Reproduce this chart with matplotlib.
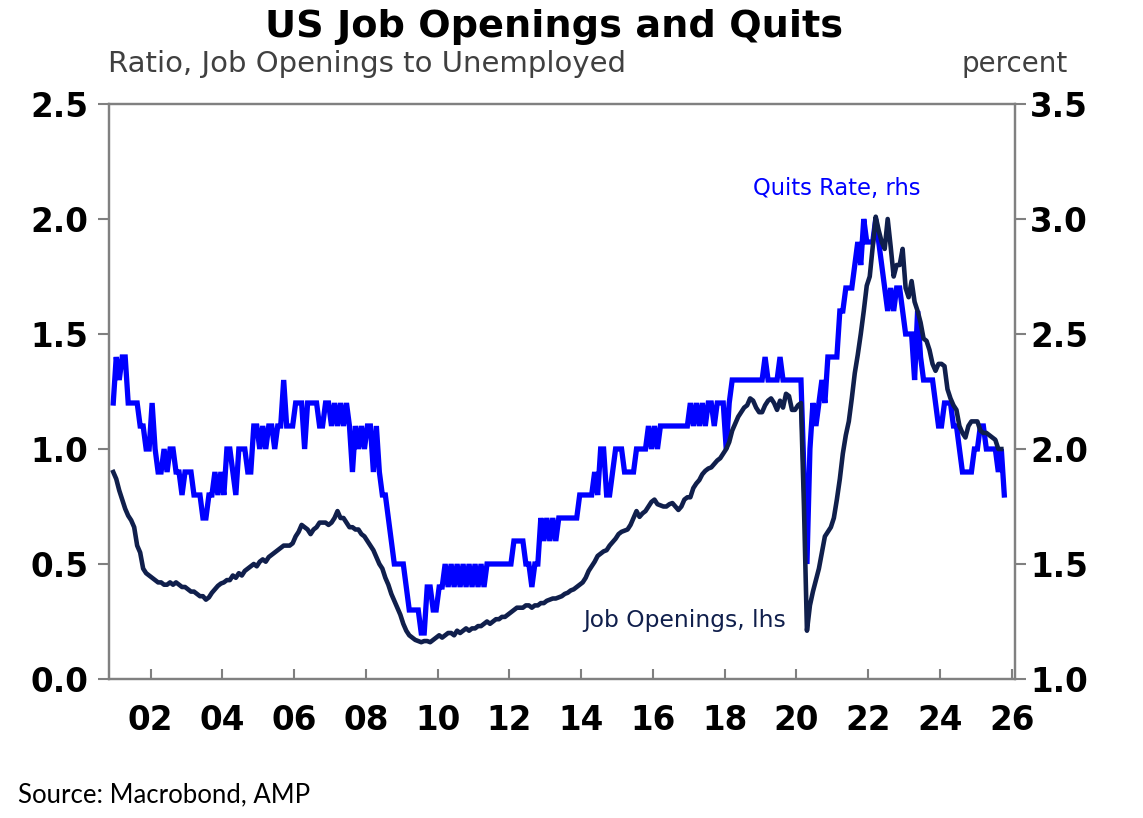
import numpy as np
import matplotlib
matplotlib.use("Agg")
import matplotlib.pyplot as plt

# Monthly data, Dec 2000 onwards (one row per calendar year)
start_year, start_month = 2000, 12

jo_ratio = [
    0.90,
    0.87, 0.82, 0.78, 0.74, 0.71, 0.69, 0.66, 0.58, 0.55, 0.48, 0.46, 0.45,
    0.44, 0.43, 0.42, 0.42, 0.41, 0.41, 0.42, 0.41, 0.42, 0.41, 0.40, 0.40,
    0.39, 0.38, 0.38, 0.37, 0.36, 0.36, 0.345, 0.355, 0.375, 0.39, 0.405, 0.415,
    0.42, 0.43, 0.43, 0.45, 0.44, 0.46, 0.45, 0.47, 0.48, 0.49, 0.50, 0.49,
    0.51, 0.52, 0.51, 0.53, 0.54, 0.55, 0.56, 0.57, 0.58, 0.58, 0.58, 0.59,
    0.62, 0.64, 0.67, 0.66, 0.65, 0.63, 0.65, 0.66, 0.68, 0.68, 0.68, 0.67,
    0.68, 0.70, 0.73, 0.70, 0.70, 0.68, 0.66, 0.66, 0.65, 0.65, 0.63, 0.62,
    0.60, 0.58, 0.56, 0.53, 0.50, 0.48, 0.44, 0.41, 0.37, 0.34, 0.31, 0.28,
    0.24, 0.21, 0.19, 0.18, 0.17, 0.165, 0.16, 0.165, 0.165, 0.16, 0.17, 0.18,
    0.19, 0.18, 0.19, 0.20, 0.20, 0.19, 0.21, 0.20, 0.21, 0.22, 0.21, 0.22,
    0.22, 0.23, 0.23, 0.24, 0.25, 0.24, 0.25, 0.26, 0.26, 0.27, 0.27, 0.28,
    0.29, 0.30, 0.31, 0.31, 0.31, 0.32, 0.32, 0.31, 0.32, 0.32, 0.33, 0.33,
    0.34, 0.345, 0.35, 0.35, 0.355, 0.36, 0.37, 0.375, 0.385, 0.39, 0.40, 0.41,
    0.42, 0.44, 0.47, 0.49, 0.51, 0.535, 0.545, 0.555, 0.56, 0.58, 0.595, 0.61,
    0.63, 0.64, 0.645, 0.65, 0.67, 0.70, 0.73, 0.705, 0.72, 0.73, 0.75, 0.77,
    0.78, 0.76, 0.755, 0.75, 0.75, 0.76, 0.765, 0.75, 0.735, 0.75, 0.78, 0.79,
    0.79, 0.83, 0.85, 0.865, 0.89, 0.905, 0.915, 0.92, 0.935, 0.95, 0.96, 0.98,
    1.00, 1.03, 1.08, 1.11, 1.14, 1.16, 1.18, 1.19, 1.22, 1.21, 1.18, 1.16,
    1.16, 1.19, 1.21, 1.22, 1.20, 1.17, 1.21, 1.18, 1.24, 1.23, 1.17, 1.17,
    1.19, 1.20, 0.75, 0.21, 0.32, 0.38, 0.43, 0.48, 0.55, 0.62, 0.64, 0.66,
    0.70, 0.78, 0.87, 0.98, 1.06, 1.12, 1.22, 1.33, 1.41, 1.50, 1.60, 1.71,
    1.75, 1.88, 2.01, 1.95, 1.90, 1.87, 2.00, 1.88, 1.75, 1.80, 1.80, 1.87,
    1.70, 1.66, 1.73, 1.64, 1.60, 1.55, 1.48, 1.47, 1.43, 1.37, 1.34, 1.37,
    1.37, 1.36, 1.26, 1.22, 1.19, 1.17, 1.10, 1.07, 1.05, 1.10, 1.12, 1.12,
    1.12, 1.08, 1.07, 1.07, 1.06, 1.05, 1.04, 1.00, 1.00,
]

quits_rate = [
    2.2,
    2.4, 2.3, 2.4, 2.4, 2.2, 2.2, 2.2, 2.2, 2.1, 2.1, 2.0, 2.0,
    2.2, 2.0, 1.9, 1.9, 2.0, 1.9, 2.0, 2.0, 1.9, 1.9, 1.8, 1.9,
    1.9, 1.9, 1.8, 1.8, 1.8, 1.7, 1.7, 1.8, 1.8, 1.9, 1.8, 1.9,
    1.8, 2.0, 2.0, 1.9, 1.8, 2.0, 2.0, 2.0, 1.9, 1.9, 2.1, 2.1,
    2.0, 2.1, 2.0, 2.1, 2.1, 2.0, 2.1, 2.1, 2.3, 2.1, 2.1, 2.1,
    2.2, 2.2, 2.2, 2.0, 2.2, 2.2, 2.2, 2.2, 2.1, 2.1, 2.2, 2.2,
    2.1, 2.2, 2.1, 2.2, 2.1, 2.2, 2.1, 1.9, 2.1, 2.0, 2.1, 2.0,
    2.1, 2.1, 1.9, 2.1, 1.9, 1.8, 1.8, 1.7, 1.6, 1.5, 1.5, 1.5,
    1.5, 1.4, 1.3, 1.3, 1.3, 1.3, 1.2, 1.2, 1.4, 1.4, 1.3, 1.3,
    1.4, 1.4, 1.5, 1.4, 1.5, 1.4, 1.5, 1.4, 1.5, 1.4, 1.5, 1.4,
    1.5, 1.4, 1.5, 1.4, 1.5, 1.5, 1.5, 1.5, 1.5, 1.5, 1.5, 1.5,
    1.5, 1.6, 1.6, 1.6, 1.6, 1.5, 1.5, 1.4, 1.5, 1.5, 1.7, 1.6,
    1.7, 1.6, 1.7, 1.6, 1.7, 1.7, 1.7, 1.7, 1.7, 1.7, 1.7, 1.8,
    1.8, 1.8, 1.8, 1.8, 1.9, 1.8, 2.0, 2.0, 1.8, 1.8, 1.9, 2.0,
    2.0, 2.0, 1.9, 1.9, 1.9, 1.9, 2.0, 2.0, 2.0, 2.0, 2.1, 2.0,
    2.1, 2.0, 2.1, 2.1, 2.1, 2.1, 2.1, 2.1, 2.1, 2.1, 2.1, 2.1,
    2.2, 2.1, 2.2, 2.1, 2.2, 2.1, 2.2, 2.2, 2.1, 2.2, 2.2, 2.2,
    2.0, 2.2, 2.3, 2.3, 2.3, 2.3, 2.3, 2.3, 2.3, 2.3, 2.3, 2.3,
    2.3, 2.4, 2.3, 2.3, 2.3, 2.3, 2.4, 2.3, 2.3, 2.3, 2.3, 2.3,
    2.3, 2.3, 1.9, 1.5, 2.0, 2.2, 2.1, 2.2, 2.3, 2.2, 2.4, 2.4,
    2.4, 2.4, 2.6, 2.6, 2.7, 2.7, 2.7, 2.8, 2.9, 2.8, 3.0, 2.9,
    2.9, 2.9, 3.0, 2.9, 2.8, 2.7, 2.6, 2.7, 2.6, 2.7, 2.7, 2.6,
    2.5, 2.5, 2.5, 2.3, 2.6, 2.4, 2.3, 2.3, 2.3, 2.3, 2.2, 2.1,
    2.1, 2.2, 2.2, 2.2, 2.1, 2.1, 2.0, 1.9, 1.9, 1.9, 1.9, 2.0,
    2.0, 2.1, 2.1, 2.0, 2.0, 2.0, 2.0, 1.9, 2.0, 1.8,
]

year_ticks = list(range(2002, 2027, 2))
year_labels = ["%02d" % (y % 100) for y in year_ticks]

# mid-month positions in decimal years
t0 = start_year + (start_month - 1) / 12
x_jo = t0 + (np.arange(len(jo_ratio)) + 0.5) / 12
x_qu = t0 + (np.arange(len(quits_rate)) + 0.5) / 12

NAVY = "#101f4c"
BLUE = "#0000ff"
GREY = "#808080"

W, H = 1143, 818
fig = plt.figure(figsize=(W / 100, H / 100), dpi=100)
ax = fig.add_axes([109 / W, (H - 679) / H, (1015 - 109) / W, (679 - 104) / H])
ax2 = ax.twinx()

ax2.plot(x_qu, quits_rate, color=BLUE, lw=3.8, solid_joinstyle="miter")
ax.plot(x_jo, jo_ratio, color=NAVY, lw=3.3)

# job openings on top of quits
ax.set_zorder(ax2.get_zorder() + 1)
ax.patch.set_visible(False)

ax.set_xlim(2000.84, 2026.09)
ax.set_ylim(0, 2.5)
ax2.set_ylim(1.0, 3.5)
ax.set_yticks(np.arange(0, 2.51, 0.5))
ax2.set_yticks(np.arange(1.0, 3.51, 0.5))
ax.set_xticks(year_ticks)
ax.set_xticklabels(year_labels)
ax.yaxis.set_major_formatter(plt.FormatStrFormatter("%.1f"))
ax2.yaxis.set_major_formatter(plt.FormatStrFormatter("%.1f"))

for a in (ax, ax2):
    for s in a.spines.values():
        s.set_color(GREY)
        s.set_linewidth(1.6)

lab = dict(labelsize=23.5, labelcolor="black", color=GREY, width=1.5)
ax.tick_params(axis="y", direction="out", length=8, pad=7, **lab)
ax2.tick_params(axis="y", direction="out", length=8, pad=3, **lab)
ax.tick_params(axis="x", direction="in", length=7, pad=18, **lab)
for a in (ax, ax2):
    for t in a.get_xticklabels() + a.get_yticklabels():
        t.set_fontweight("bold")

fig.text(0.485, 0.967, "US Job Openings and Quits", ha="center", va="center",
         fontsize=27.5, fontweight="bold", color="black")
fig.text(108 / W, 1 - 64 / H, "Ratio, Job Openings to Unemployed", ha="left",
         va="center", fontsize=21, color="#404040")
fig.text(1068 / W, 1 - 64 / H, "percent", ha="right", va="center",
         fontsize=20, color="#404040")

fig.text(753 / W, 1 - 188 / H, "Quits Rate, rhs", ha="left", va="center",
         fontsize=16.3, color=BLUE)
fig.text(583 / W, 1 - 620 / H, "Job Openings, lhs", ha="left", va="center",
         fontsize=16.8, color=NAVY)

fig.text(18 / W, 1 - 795 / H, "Source: Macrobond, AMP", ha="left", va="center",
         fontsize=18.5, family=["Lato", "DejaVu Sans"], color="black")

fig.savefig("out.png", dpi=100)
